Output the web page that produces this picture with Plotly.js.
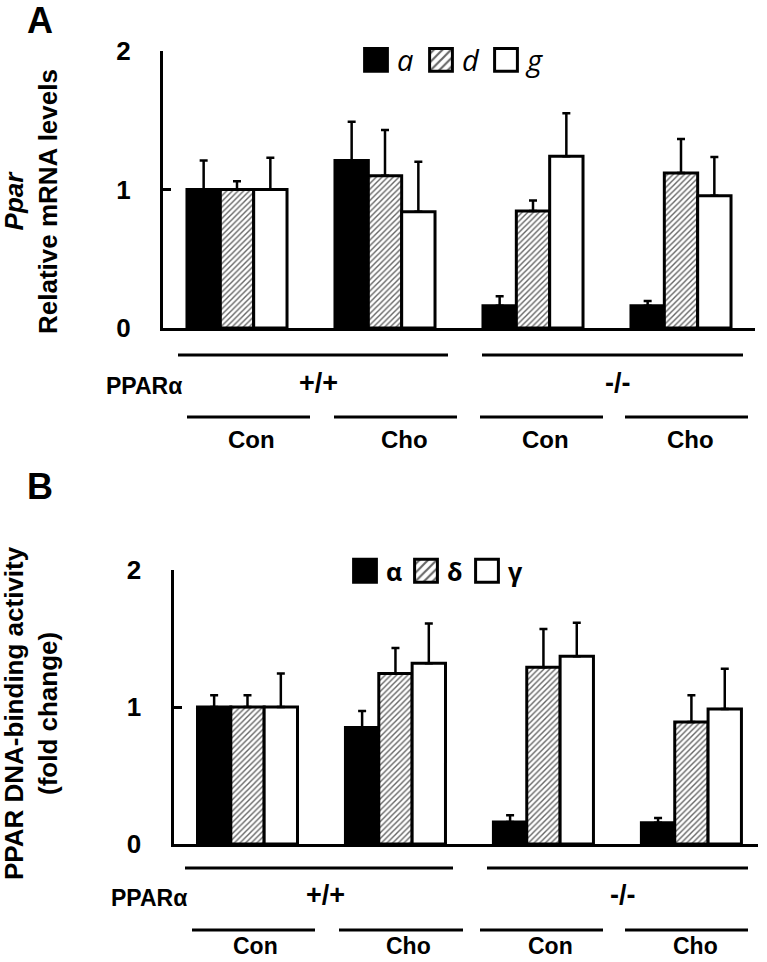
<!DOCTYPE html>
<html>
<head>
<meta charset="utf-8">
<script src="https://cdn.plot.ly/plotly-3.0.1.min.js"></script>
<style>html,body{margin:0;padding:0;background:#fff;}</style>
</head>
<body>
<div id="chart" style="width:767px;height:962px;"></div>
<script>
// ---------- data ----------
const groups = ['+/+ Con', '+/+ Cho', '-/- Con', '-/- Cho'];

// Panel A: Ppar relative mRNA levels
const mrnaNames = ['a', 'd', 'g'];
const mrnaA   = [1.00, 1.21, 0.16, 0.16];
const mrnaAerr = [0.21, 0.28, 0.07, 0.035];
const mrnaD   = [1.00, 1.10, 0.845, 1.12];
const mrnaDerr = [0.06, 0.33, 0.075, 0.245];
const mrnaG   = [1.00, 0.84, 1.24, 0.955];
const mrnaGerr = [0.23, 0.36, 0.31, 0.28];

// Panel B: PPAR DNA-binding activity (fold change)
const bindNames = ['α', 'δ', 'γ'];
const bindAlpha = [1.00, 0.85, 0.16, 0.155];
const bindAlphaErr = [0.085, 0.12, 0.05, 0.035];
const bindDelta = [1.00, 1.245, 1.29, 0.89];
const bindDeltaErr = [0.085, 0.185, 0.28, 0.195];
const bindGamma = [1.00, 1.32, 1.37, 0.985];
const bindGammaErr = [0.245, 0.29, 0.245, 0.295];

const yTicks = [0, 1, 2];
const genotypeLabels = ['+/+', '-/-'];
const treatmentLabels = ['Con', 'Cho', 'Con', 'Cho'];

// ---------- helpers ----------
const W = 767, H = 962;
const px = x => x / W;
const py = y => 1 - y / H;
const zeros = n => new Array(n).fill(0);

const styles = [
  {color: '#000000', pattern: {shape: ''}},
  {color: '#ffffff', pattern: {shape: '/', fgcolor: '#666666', bgcolor: '#ffffff', size: 4, solidity: 0.35}},
  {color: '#ffffff', pattern: {shape: ''}}
];

function barTrace(name, y, err, idx, xa, ya, legend) {
  return {
    type: 'bar', name: name, x: groups, y: y,
    xaxis: xa, yaxis: ya, legend: legend,
    marker: {color: styles[idx].color, pattern: styles[idx].pattern, line: {color: '#000', width: 3}},
    error_y: {type: 'data', symmetric: false, array: err, arrayminus: zeros(err.length),
              color: '#000', thickness: 2.5, width: 4},
    hoverinfo: 'skip'
  };
}

const data = [
  barTrace(mrnaNames[0], mrnaA, mrnaAerr, 0, 'x', 'y', 'legend'),
  barTrace(mrnaNames[1], mrnaD, mrnaDerr, 1, 'x', 'y', 'legend'),
  barTrace(mrnaNames[2], mrnaG, mrnaGerr, 2, 'x', 'y', 'legend'),
  barTrace(bindNames[0], bindAlpha, bindAlphaErr, 0, 'x2', 'y2', 'legend2'),
  barTrace(bindNames[1], bindDelta, bindDeltaErr, 1, 'x2', 'y2', 'legend2'),
  barTrace(bindNames[2], bindGamma, bindGammaErr, 2, 'x2', 'y2', 'legend2')
];

const FONT = 'Liberation Sans, Arial, sans-serif';

const xBase = {type: 'category', showticklabels: false, ticks: '', showgrid: false, zeroline: false,
               showline: true, linewidth: 3, linecolor: '#000', fixedrange: true};
const yBase = {range: [0, 2], tickvals: yTicks, ticktext: yTicks.map(String), ticks: 'inside', ticklen: 8, tickwidth: 3,
               tickcolor: '#000', showgrid: false, zeroline: false, showline: true, linewidth: 3, linecolor: '#000',
               tickfont: {family: FONT, size: 26, weight: 700, color: '#000'}, ticklabelstandoff: 24, fixedrange: true};

const layout = {
  width: W, height: H,
  margin: {l: 0, r: 0, t: 0, b: 0},
  paper_bgcolor: '#fff', plot_bgcolor: 'rgba(0,0,0,0)',
  font: {family: FONT, color: '#000'},
  barmode: 'group', bargap: 0.324, bargroupgap: 0,
  xaxis: Object.assign({}, xBase, {domain: [px(163), px(755)], range: [-0.5, 3.5], anchor: 'y'}),
  yaxis: Object.assign({}, yBase, {domain: [py(328), py(51)], anchor: 'x'}),
  xaxis2: Object.assign({}, xBase, {domain: [px(173.5), px(758)], range: [-0.5, 3.45], anchor: 'y2'}),
  yaxis2: Object.assign({}, yBase, {domain: [py(844), py(570)], anchor: 'x2'}),
  legend: {orientation: 'h', x: px(357), xanchor: 'left', y: py(60), yanchor: 'middle',
           font: {family: 'Open Sans, sans-serif', size: 29, style: 'italic', color: '#000'},
           bgcolor: 'rgba(0,0,0,0)', entrywidth: 20, entrywidthmode: 'pixels', traceorder: 'normal',
           itemclick: false, itemdoubleclick: false},
  legend2: {orientation: 'h', x: px(346), xanchor: 'left', y: py(571), yanchor: 'middle',
            font: {family: 'Open Sans, sans-serif', size: 25, weight: 700, color: '#000'},
            bgcolor: 'rgba(0,0,0,0)', entrywidth: 16, entrywidthmode: 'pixels', traceorder: 'normal',
            itemclick: false, itemdoubleclick: false},
  shapes: [],
  annotations: []
};

function hline(x0, x1, y) {
  layout.shapes.push({type: 'line', xref: 'paper', yref: 'paper', x0: px(x0), x1: px(x1), y0: py(y), y1: py(y),
                      line: {color: '#000', width: 3}});
}
function label(text, x, y, size, extra) {
  layout.annotations.push(Object.assign({text: text, xref: 'paper', yref: 'paper', x: px(x), y: py(y),
    xanchor: 'center', yanchor: 'middle', showarrow: false,
    font: {family: FONT, size: size, weight: 700, color: '#000'}}, extra || {}));
}

// Panel letters
label('A', 40, 20, 36);
label('B', 40, 487, 36);

// Axis titles (rotated)
label('<i>Ppar</i><br>Relative mRNA levels', 31, 202, 26, {textangle: -90});
label('PPAR DNA-binding activity<br>(fold change)', 31, 713, 26, {textangle: -90});

// Group brackets & labels, panel A
hline(178, 448, 355); hline(482, 743, 355);
hline(187, 310, 417); hline(334, 457, 417); hline(480, 603, 417); hline(625, 748, 417);
label('PPARα', 143.5, 386, 23);
label(genotypeLabels[0], 318, 383, 27);
label(genotypeLabels[1], 617, 383, 27);
[251, 404, 545, 690].forEach((x, i) => label(treatmentLabels[i], x, 439, 24));

// Group brackets & labels, panel B
hline(185, 453, 868); hline(487, 748, 868);
hline(192, 315, 930); hline(339, 463, 930); hline(480, 603, 930); hline(625, 748, 930);
label('PPARα', 148.5, 898, 23);
label(genotypeLabels[0], 325, 895, 27);
label(genotypeLabels[1], 622, 895, 27);
[255, 408, 550, 695].forEach((x, i) => label(treatmentLabels[i], x, 946, 23));

Plotly.newPlot('chart', data, layout, {displayModeBar: false, staticPlot: true}).then(() => {
  // enlarge legend swatches to match the reference key boxes
  document.querySelectorAll('.legendpoints path').forEach(p => {
    p.setAttribute('transform', 'translate(19,0) scale(1.9)');
    p.style.vectorEffect = 'non-scaling-stroke';
    p.style.strokeWidth = '3px';
  });
});
</script>
</body>
</html>
